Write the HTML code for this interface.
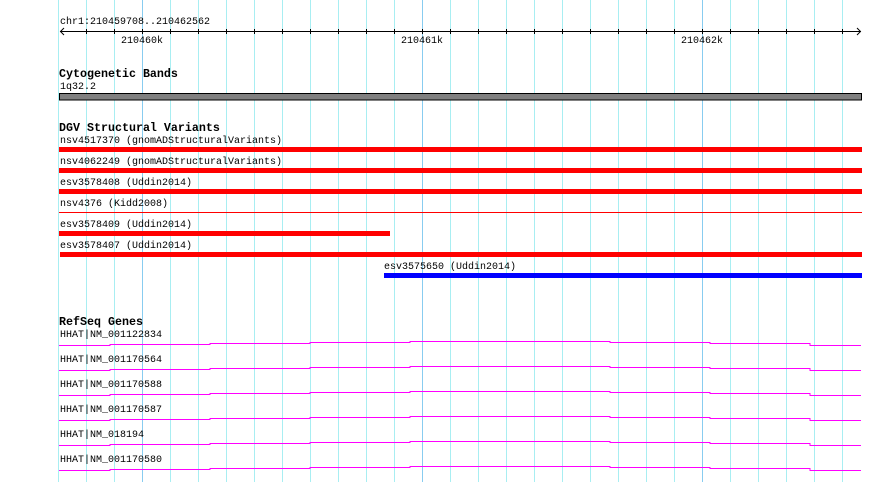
<!DOCTYPE html>
<html><head><meta charset="utf-8"><style>
html,body{margin:0;padding:0;background:#fff;width:890px;height:482px;overflow:hidden;position:relative}
.t{position:absolute;font-family:"Liberation Mono",monospace;font-size:10px;line-height:12px;color:#000;white-space:pre;margin-top:2px}
.b{font-weight:bold;font-size:11.67px;margin-top:1px}
.bar{position:absolute;height:5px}
</style></head><body>
<svg width="890" height="482" style="position:absolute;left:0;top:0">
<g stroke="#a8eef2" stroke-width="1">
<line x1="58.5" y1="0" x2="58.5" y2="482"/><line x1="86.5" y1="0" x2="86.5" y2="482"/><line x1="114.5" y1="0" x2="114.5" y2="482"/>
<line x1="170.5" y1="0" x2="170.5" y2="482"/><line x1="198.5" y1="0" x2="198.5" y2="482"/><line x1="226.5" y1="0" x2="226.5" y2="482"/>
<line x1="254.5" y1="0" x2="254.5" y2="482"/><line x1="282.5" y1="0" x2="282.5" y2="482"/><line x1="310.5" y1="0" x2="310.5" y2="482"/>
<line x1="338.5" y1="0" x2="338.5" y2="482"/><line x1="366.5" y1="0" x2="366.5" y2="482"/><line x1="394.5" y1="0" x2="394.5" y2="482"/>
<line x1="450.5" y1="0" x2="450.5" y2="482"/><line x1="478.5" y1="0" x2="478.5" y2="482"/><line x1="506.5" y1="0" x2="506.5" y2="482"/>
<line x1="534.5" y1="0" x2="534.5" y2="482"/><line x1="562.5" y1="0" x2="562.5" y2="482"/><line x1="590.5" y1="0" x2="590.5" y2="482"/>
<line x1="618.5" y1="0" x2="618.5" y2="482"/><line x1="646.5" y1="0" x2="646.5" y2="482"/><line x1="674.5" y1="0" x2="674.5" y2="482"/>
<line x1="730.5" y1="0" x2="730.5" y2="482"/><line x1="758.5" y1="0" x2="758.5" y2="482"/><line x1="786.5" y1="0" x2="786.5" y2="482"/>
<line x1="814.5" y1="0" x2="814.5" y2="482"/><line x1="842.5" y1="0" x2="842.5" y2="482"/>
</g>
<g stroke="#88ccf0" stroke-width="1">
<line x1="142.5" y1="0" x2="142.5" y2="482"/><line x1="422.5" y1="0" x2="422.5" y2="482"/><line x1="702.5" y1="0" x2="702.5" y2="482"/>
</g>
<g stroke="#000" stroke-width="1" fill="none">
<line x1="60" y1="31.5" x2="861" y2="31.5"/>
<polyline points="64,28 60.5,31.5 64,35"/><polyline points="857,28 860.5,31.5 857,35"/>
<path d="M86.5 29V34M114.5 29V34M142.5 29V34M170.5 29V34M198.5 29V34M226.5 29V34M254.5 29V34M282.5 29V34M310.5 29V34M338.5 29V34M366.5 29V34M394.5 29V34M422.5 29V34M450.5 29V34M478.5 29V34M506.5 29V34M534.5 29V34M562.5 29V34M590.5 29V34M618.5 29V34M646.5 29V34M674.5 29V34M702.5 29V34M730.5 29V34M758.5 29V34M786.5 29V34M814.5 29V34M842.5 29V34"/>
</g>
<rect x="59.5" y="93.5" width="802" height="6.5" fill="#808080" stroke="#000" stroke-width="1"/>
<g stroke="#ff00ff" stroke-width="1" fill="none" id="g">
<polyline points="59,345.5 110,345.5 110,344.5 210,344.5 210,343.5 310,343.5 310,342.5 410,342.5 410,341.5 510,341.5 510,341.5 610,341.5 610,342.5 710,342.5 710,343.5 810,343.5 810,345.5 861,345.5"/>
</g>
<use href="#g" y="25"/><use href="#g" y="50"/><use href="#g" y="75"/><use href="#g" y="100"/><use href="#g" y="125"/>
</svg>
<div class="t" style="left:60px;top:15px">chr1:210459708..210462562</div>
<div class="t" style="left:121px;top:34px">210460k</div>
<div class="t" style="left:401px;top:34px">210461k</div>
<div class="t" style="left:681px;top:34px">210462k</div>
<div class="t b" style="left:59px;top:67px">Cytogenetic Bands</div>
<div class="t" style="left:60px;top:80px">1q32.2</div>
<div class="t b" style="left:59px;top:121px">DGV Structural Variants</div>
<div class="t" style="left:60px;top:134px">nsv4517370 (gnomADStructuralVariants)</div>
<div class="bar" style="left:59px;top:147px;width:803px;background:#f00"></div>
<div class="t" style="left:60px;top:155px">nsv4062249 (gnomADStructuralVariants)</div>
<div class="bar" style="left:59px;top:168px;width:803px;background:#f00"></div>
<div class="t" style="left:60px;top:176px">esv3578408 (Uddin2014)</div>
<div class="bar" style="left:59px;top:189px;width:803px;background:#f00"></div>
<div class="t" style="left:60px;top:197px">nsv4376 (Kidd2008)</div>
<div class="bar" style="left:59px;top:212px;width:803px;height:1px;background:#f00"></div>
<div class="t" style="left:60px;top:218px">esv3578409 (Uddin2014)</div>
<div class="bar" style="left:59px;top:231px;width:331px;background:#f00"></div>
<div class="t" style="left:60px;top:239px">esv3578407 (Uddin2014)</div>
<div class="bar" style="left:60px;top:252px;width:802px;background:#f00"></div>
<div class="t" style="left:384px;top:260px">esv3575650 (Uddin2014)</div>
<div class="bar" style="left:384px;top:273px;width:478px;background:#00f"></div>
<div class="t b" style="left:59px;top:315px">RefSeq Genes</div>
<div class="t" style="left:60px;top:328px">HHAT|NM_001122834</div>
<div class="t" style="left:60px;top:353px">HHAT|NM_001170564</div>
<div class="t" style="left:60px;top:378px">HHAT|NM_001170588</div>
<div class="t" style="left:60px;top:403px">HHAT|NM_001170587</div>
<div class="t" style="left:60px;top:428px">HHAT|NM_018194</div>
<div class="t" style="left:60px;top:453px">HHAT|NM_001170580</div>
</body></html>
